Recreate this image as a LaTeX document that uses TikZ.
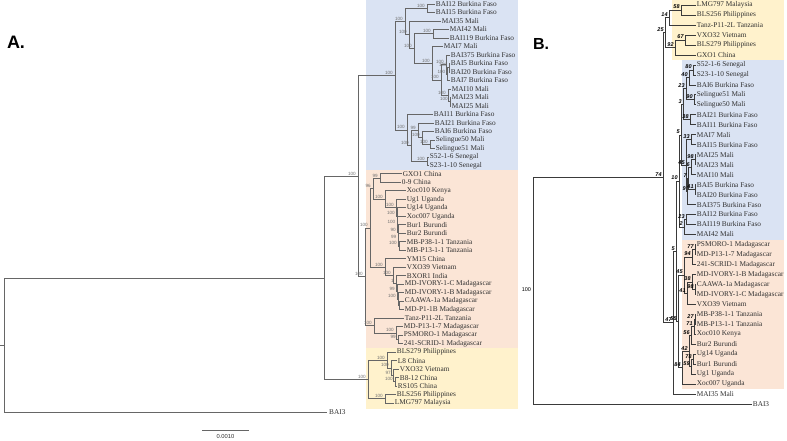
\documentclass[tikz,border=0pt]{standalone}
\usepackage{fontspec}
\setmainfont{Liberation Serif}
\newfontfamily\lsans{Liberation Sans}
\usetikzlibrary{calc}
\definecolor{bgblue}{HTML}{DAE3F3}
\definecolor{bgsalmon}{HTML}{FBE5D6}
\definecolor{bgyellow}{HTML}{FFF2CC}
\definecolor{lineA}{HTML}{666666}
\definecolor{lineB}{HTML}{3A3A3A}
\definecolor{txt}{HTML}{303030}
\definecolor{bsgray}{HTML}{707070}
\tikzset{
  brA/.style={draw=lineA, line width=0.65pt},
  brB/.style={draw=lineB, line width=0.6pt},
  lblA/.style={anchor=west, inner sep=0.7pt, text=txt, font=\fontsize{7.3}{8}\selectfont},
  bsA/.style={anchor=south east, inner sep=0.2pt, text=bsgray, font=\lsans\fontsize{4.6}{5}\selectfont},
  bsB/.style={anchor=south east, inner sep=0.2pt, text=black, font=\lsans\bfseries\itshape\fontsize{5.5}{6}\selectfont},
  panel/.style={inner sep=0pt, font=\lsans\bfseries\fontsize{18}{18}\selectfont},
}
\newcommand\lfA[4]{\coordinate (#1) at (#3,{4+8.49*#2}); \node[lblA] (#1t) at (#1) {#4};}
\newcommand\lfB[4]{\coordinate (#1) at (#3,{5+9.975*#2}); \node[lblA] (#1t) at (#1) {#4};}
\newcommand\mknode[5]{%
  \path let \p1=(#4), \p2=(#5) in (#3pt,{(\y1+\y2)/2}) coordinate (#2);
  \draw[#1] (#2) |- (#4) (#2) |- (#5);}
\newcommand\bsa[2]{\node[bsA] (bs#1) at ([xshift=-1.8pt,yshift=0.6pt]#1) {#2};}
\newcommand\bsb[2]{\node[bsB] (bs#1) at ([xshift=-1pt,yshift=0.6pt]#1) {#2};}
\begin{document}
\begin{tikzpicture}[x=1pt,y=-1pt]
\useasboundingbox (0,0) rectangle (787,440);
% backgrounds
\fill[bgblue] (366,0) rectangle (518,169.5);
\fill[bgsalmon] (366,169.5) rectangle (518,347.5);
\fill[bgyellow] (366,347.5) rectangle (518,408.5);
\fill[bgyellow] (672,0) rectangle (784,60);
\fill[bgblue] (682,60) rectangle (784,239.5);
\fill[bgsalmon] (682,239.5) rectangle (784,388.5);
% panel labels
\node[panel] (labA) at (16,42) {A.};
\node[panel,font=\lsans\bfseries\fontsize{16}{16}\selectfont] (labB) at (541,44) {B.};
% ================= PANEL A leaves
\lfA{a0}{0}{435}{BAI12 Burkina Faso}
\lfA{a1}{1}{435}{BAI15 Burkina Faso}
\lfA{a2}{2}{441}{MAI35 Mali}
\lfA{a3}{3}{449}{MAI42 Mali}
\lfA{a4}{4}{449}{BAI119 Burkina Faso}
\lfA{a5}{5}{443}{MAI7 Mali}
\lfA{a6}{6}{450}{BAI375 Burkina Faso}
\lfA{a7}{7}{450}{BAI5 Burkina Faso}
\lfA{a8}{8}{450}{BAI20 Burkina Faso}
\lfA{a9}{9}{450}{BAI7 Burkina Faso}
\lfA{a10}{10}{451}{MAI10 Mali}
\lfA{a11}{11}{451}{MAI23 Mali}
\lfA{a12}{12}{451}{MAI25 Mali}
\lfA{a13}{13}{433}{BAI11 Burkina Faso}
\lfA{a14}{14}{434}{BAI21 Burkina Faso}
\lfA{a15}{15}{434}{BAI6 Burkina Faso}
\lfA{a16}{16}{435}{Selingue50 Mali}
\lfA{a17}{17}{435}{Selingue51 Mali}
\lfA{a18}{18}{429}{S52-1-6 Senegal}
\lfA{a19}{19}{429}{S23-1-10 Senegal}
\lfA{a20}{20}{402}{GXO1 China}
\lfA{a21}{21}{401}{0-9 China}
\lfA{a22}{22}{406}{Xoc010 Kenya}
\lfA{a23}{23}{406}{Ug1 Uganda}
\lfA{a24}{24}{406}{Ug14 Uganda}
\lfA{a25}{25}{406}{Xoc007 Uganda}
\lfA{a26}{26}{406}{Bur1 Burundi}
\lfA{a27}{27}{406}{Bur2 Burundi}
\lfA{a28}{28}{406}{MB-P38-1-1 Tanzania}
\lfA{a29}{29}{406}{MB-P13-1-1 Tanzania}
\lfA{a30}{30}{406}{YM15 China}
\lfA{a31}{31}{406}{VXO39 Vietnam}
\lfA{a32}{32}{406}{BXOR1 India}
\lfA{a33}{33}{404}{MD-IVORY-1-C Madagascar}
\lfA{a34}{34}{404}{MD-IVORY-1-B Madagascar}
\lfA{a35}{35}{404}{CAAWA-1a Madagascar}
\lfA{a36}{36}{404}{MD-P1-1B Madagascar}
\lfA{a37}{37}{404}{Tanz-P11-2L Tanzania}
\lfA{a38}{38}{403}{MD-P13-1-7 Madagascar}
\lfA{a39}{39}{403}{PSMORO-1 Madagascar}
\lfA{a40}{40}{403}{241-SCRID-1 Madagascar}
\lfA{a41}{41}{396}{BLS279 Philippines}
\lfA{a42}{42}{397}{L8 China}
\lfA{a43}{43}{399}{VXO32 Vietnam}
\lfA{a44}{44}{399}{B8-12 China}
\lfA{a45}{45}{397}{RS105 China}
\lfA{a46}{46}{396}{BLS256 Philippines}
\lfA{a47}{47}{394}{LMG797 Malaysia}
\coordinate (a48) at (327,412.5); \node[lblA,inner sep=2pt] (a48t) at (a48) {BAI3};
% ---- blue clade A
\mknode{brA}{P}{427}{a0}{a1}
\mknode{brA}{Q}{433}{a3}{a4}
\mknode{brA}{R3}{449}{a7}{a8}
\mknode{brA}{R2}{447.5}{R3}{a9}
\mknode{brA}{R1}{446}{a6}{R2}
\mknode{brA}{Sp}{450}{a11}{a12}
\mknode{brA}{Sm}{448}{a10}{Sp}
\mknode{brA}{A5}{441}{R1}{Sm}
\mknode{brA}{A4}{432}{a5}{A5}
\mknode{brA}{A3}{414}{Q}{A4}
\mknode{brA}{A2}{409}{a2}{A3}
\mknode{brA}{A1}{405}{P}{A2}
\mknode{brA}{B5}{430}{a16}{a17}
\mknode{brA}{B4}{422}{a15}{B5}
\mknode{brA}{B3}{418}{a14}{B4}
\mknode{brA}{B6}{427}{a18}{a19}
\mknode{brA}{B2}{411}{B3}{B6}
\mknode{brA}{B1}{407}{a13}{B2}
\mknode{brA}{A0}{395}{A1}{B1}
% ---- salmon clade A
\mknode{brA}{S13}{380}{a20}{a21}
\mknode{brA}{T6}{399}{a28}{a29}
\mknode{brA}{T5}{398.5}{a27}{T6}
\mknode{brA}{T4}{398}{a26}{T5}
\mknode{brA}{T3}{397.5}{a25}{T4}
\mknode{brA}{T2}{397}{a24}{T3}
\mknode{brA}{S16}{396}{a23}{T2}
\mknode{brA}{S14}{385}{a22}{S16}
\mknode{brA}{S1}{373}{S13}{S14}
\mknode{brA}{S11}{399}{a35}{a36}
\mknode{brA}{S10}{398}{a34}{S11}
\mknode{brA}{S9}{397}{a33}{S10}
\mknode{brA}{S8}{396}{a32}{S9}
\mknode{brA}{S7}{393}{a31}{S8}
\mknode{brA}{S6}{385}{a30}{S7}
\mknode{brA}{X}{370}{S1}{S6}
\mknode{brA}{S5}{398}{a39}{a40}
\mknode{brA}{S4}{396}{a38}{S5}
\mknode{brA}{S3}{374}{a37}{S4}
\mknode{brA}{S0}{365}{X}{S3}
\mknode{brA}{BS}{358}{A0}{S0}
% ---- yellow clade A
\mknode{brA}{Y5}{395}{a44}{a45}
\mknode{brA}{Y4}{393}{a43}{Y5}
\mknode{brA}{Y3}{391}{a42}{Y4}
\mknode{brA}{Y2}{387}{a41}{Y3}
\mknode{brA}{Y1}{385}{a46}{a47}
\mknode{brA}{Y0}{368}{Y2}{Y1}
\mknode{brA}{N324}{324}{BS}{Y0}
\mknode{brA}{RootA}{4}{N324}{a48}
\coordinate (stubA) at ($(RootA)+(-4,0)$);
\draw[brA] (RootA) -- (stubA);
% bootstrap A
\bsa{P}{100}\bsa{Q}{100}\bsa{R3}{100}\bsa{R2}{100}\bsa{R1}{100}
\bsa{Sp}{100}\bsa{Sm}{100}\bsa{A5}{100}\bsa{A4}{100}\bsa{A3}{100}
\bsa{A2}{100}\bsa{A1}{100}\bsa{B5}{100}\bsa{B4}{100}\bsa{B3}{99}
\bsa{B6}{100}\bsa{B2}{100}\bsa{B1}{100}\bsa{A0}{100}
\bsa{S13}{99}\bsa{T6}{100}\bsa{T5}{99}\bsa{T4}{90}\bsa{T3}{100}\bsa{T2}{100}
\bsa{S16}{100}\bsa{S14}{100}\bsa{S1}{96}\bsa{S10}{100}\bsa{S9}{99}\bsa{S8}{1}
\bsa{S7}{100}\bsa{S6}{100}\bsa{X}{100}\bsa{S5}{99}\bsa{S4}{100}\bsa{S3}{100}
\bsa{S0}{100}\bsa{BS}{100}
\bsa{Y5}{100}\bsa{Y4}{97}\bsa{Y3}{100}\bsa{Y2}{100}\bsa{Y1}{100}\bsa{Y0}{100}
% scale bar
\coordinate (sb1) at (202,430); \coordinate (sb2) at (249,430);
\draw[draw=lineA, line width=0.8pt] (sb1) -- (sb2);
\node[inner sep=0pt, text=txt, font=\lsans\fontsize{5.8}{6}\selectfont] (sbl) at (225.5,436.3) {0.0010};
% ================= PANEL B leaves
\lfB{q1}{0}{696}{LMG797 Malaysia}
\lfB{q2}{1}{696}{BLS256 Philippines}
\lfB{q3}{2}{696}{Tanz-P11-2L Tanzania}
\lfB{q4}{3}{696}{VXO32 Vietnam}
\lfB{q5}{4}{696}{BLS279 Philippines}
\lfB{q6}{5}{696}{GXO1 China}
\lfB{q7}{6}{696}{S52-1-6 Senegal}
\lfB{q8}{7}{696}{S23-1-10 Senegal}
\lfB{q9}{8}{696}{BAI6 Burkina Faso}
\lfB{q10}{9}{696}{Selingue51 Mali}
\lfB{q11}{10}{696}{Selingue50 Mali}
\lfB{q12}{11}{696}{BAI21 Burkina Faso}
\lfB{q13}{12}{696}{BAI11 Burkina Faso}
\lfB{q14}{13}{696}{MAI7 Mali}
\lfB{q15}{14}{696}{BAI15 Burkina Faso}
\lfB{q16}{15}{696}{MAI25 Mali}
\lfB{q17}{16}{696}{MAI23 Mali}
\lfB{q18}{17}{696}{MAI10 Mali}
\lfB{q19}{18}{696}{BAI5 Burkina Faso}
\lfB{q20}{19}{696}{BAI20 Burkina Faso}
\lfB{q21}{20}{696}{BAI375 Burkina Faso}
\lfB{q22}{21}{696}{BAI12 Burkina Faso}
\lfB{q23}{22}{696}{BAI119 Burkina Faso}
\lfB{q24}{23}{696}{MAI42 Mali}
\lfB{q25}{24}{696}{PSMORO-1 Madagascar}
\lfB{q26}{25}{696}{MD-P13-1-7 Madagascar}
\lfB{q27}{26}{696}{241-SCRID-1 Madagascar}
\lfB{q28}{27}{696}{MD-IVORY-1-B Madagascar}
\lfB{q29}{28}{696}{CAAWA-1a Madagascar}
\lfB{q30}{29}{696}{MD-IVORY-1-C Madagascar}
\lfB{q31}{30}{696}{VXO39 Vietnam}
\lfB{q32}{31}{696}{MB-P38-1-1 Tanzania}
\lfB{q33}{32}{696}{MB-P13-1-1 Tanzania}
\lfB{q34}{33}{696}{Xoc010 Kenya}
\lfB{q35}{34}{696}{Bur2 Burundi}
\lfB{q36}{35}{696}{Ug14 Uganda}
\lfB{q37}{36}{696}{Bur1 Burundi}
\lfB{q38}{37}{696}{Ug1 Uganda}
\lfB{q39}{38}{696}{Xoc007 Uganda}
\lfB{q40}{39}{696}{MAI35 Mali}
\lfB{q41}{40}{752}{BAI3}
% ---- yellow B
\mknode{brB}{k58}{681}{q1}{q2}
\mknode{brB}{k14}{669}{k58}{q3}
\mknode{brB}{k67}{685}{q4}{q5}
\mknode{brB}{k92}{675}{k67}{q6}
\mknode{brB}{k25}{665}{k14}{k92}
% ---- blue B
\mknode{brB}{b80}{693}{q7}{q8}
\mknode{brB}{b40}{689}{b80}{q9}
\mknode{brB}{b90}{694}{q10}{q11}
\mknode{brB}{b23}{686}{b40}{b90}
\mknode{brB}{b38}{690}{q12}{q13}
\mknode{brB}{b3}{683}{b23}{b38}
\mknode{brB}{b33}{691}{q14}{q15}
\mknode{brB}{b98}{695}{q16}{q17}
\mknode{brB}{b6}{691}{b98}{q18}
\mknode{brB}{b41}{695}{q19}{q20}
\mknode{brB}{b7}{688}{b6}{b41}
\mknode{brB}{b9}{687}{b7}{q21}
\mknode{brB}{b45}{686}{b33}{b9}
\mknode{brB}{b5}{681}{b3}{b45}
\mknode{brB}{b23p}{686}{q22}{q23}
\mknode{brB}{b2}{684}{b23p}{q24}
\mknode{brB}{b10}{679}{b5}{b2}
% ---- salmon B
\mknode{brB}{s77}{695}{q25}{q26}
\mknode{brB}{s94}{692}{s77}{q27}
\mknode{brB}{s98}{695}{q29}{q30}
\mknode{brB}{s38}{692}{q28}{s98}
\mknode{brB}{s41}{687}{s38}{q31}
\mknode{brB}{s45}{684}{s94}{s41}
\mknode{brB}{s27}{695}{q32}{q33}
\mknode{brB}{s71}{694}{s27}{q34}
\mknode{brB}{s56}{691}{s71}{q35}
\mknode{brB}{s78}{693}{q36}{q37}
\mknode{brB}{s59}{691}{s78}{q38}
\mknode{brB}{s42}{689}{s56}{s59}
\mknode{brB}{s84}{682}{s42}{q39}
\mknode{brB}{s55}{678}{s45}{s84}
\mknode{brB}{kBS}{676}{b10}{s55}
\mknode{brB}{k47}{673}{kBS}{q40}
\mknode{brB}{k74}{663}{k25}{k47}
\mknode{brB}{kR}{533}{k74}{q41}
% bootstrap B
\bsb{k58}{58}\bsb{k14}{14}\bsb{k67}{67}\bsb{k92}{92}\bsb{k25}{25}
\bsb{b80}{80}\bsb{b40}{40}\bsb{b90}{90}\bsb{b23}{23}\bsb{b38}{38}\bsb{b3}{3}
\bsb{b33}{33}\bsb{b98}{98}\bsb{b6}{6}\bsb{b41}{41}\bsb{b7}{7}\bsb{b9}{9}
\bsb{b45}{45}\bsb{b5}{5}\bsb{b23p}{23}\bsb{b2}{2}\bsb{b10}{10}
\bsb{s77}{77}\bsb{s94}{94}\bsb{s98}{98}\bsb{s38}{38}\bsb{s41}{41}\bsb{s45}{45}
\bsb{s27}{27}\bsb{s71}{71}\bsb{s56}{56}\bsb{s78}{78}\bsb{s59}{59}\bsb{s42}{42}
\bsb{s84}{84}\bsb{s55}{55}\bsb{kBS}{5}\bsb{k47}{47}\bsb{k74}{74}
\node[anchor=east, inner sep=0.3pt, font=\lsans\fontsize{5.5}{6}\selectfont] (bskR) at ([xshift=-1.5pt,yshift=1pt]kR) {100};
\end{tikzpicture}
\end{document}
